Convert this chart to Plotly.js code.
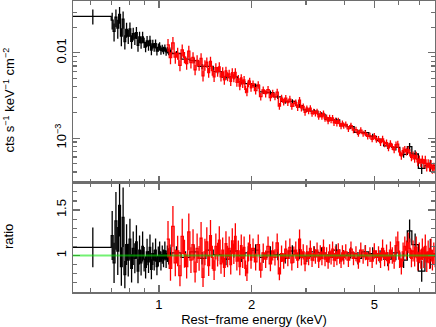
<!DOCTYPE html>
<html>
<head>
<meta charset="utf-8">
<script src="https://cdn.plot.ly/plotly-3.0.1.min.js"></script>
<style>
  html, body { margin: 0; padding: 0; background: #fff; }
  #spec { width: 436px; height: 327px; }
</style>
</head>
<body>
<div id="spec"></div>
<script>
// bin edges in keV (n+1 values for n bins)
var blackEdges = [0.52,0.70,0.71,0.72,0.73,0.74,0.75,0.76,0.77,0.78,0.79,0.80,0.81,0.82,0.83,0.84,0.85,0.86,0.87,0.88,0.89,0.90,
  0.91,0.92,0.93,0.94,0.95,0.96,0.97,0.98,0.99,1.00,1.01,1.02,1.03,1.04,1.05,1.06,1.07,1.08,1.09,1.10,
  1.18,1.26,1.34,1.42,1.50,1.60,1.70,1.80,1.90,2.00,2.12,2.24,2.36,2.50,2.64,2.78,2.94,3.10,3.28,3.46,
  3.66,3.86,4.08,4.30,4.55,4.80,5.08,5.36,5.70,6.05,6.40,6.62,6.95,7.30,7.90];
// count rate, units of 1e-5 cts s^-1 keV^-1 cm^-2
var blackRate = [2680,
  2414,1782,2616,1950,2821,1569,2482,1354,1883,1567,1908,1366,1683,1484,1727,1225,1537,1311,1541,1322,
  1178,1384,1218,1404,1078,1272,1167,1282,1047,1160,1200,1069,1131,1071,1142,1029,1078,1032,1058,1013,
  982,843,812,692,693,603,521,522,457,435,411,349,341,305,269,269,241,215,207,190,
  166,164,143,136,117,116,105,93.3,81.2,78.0,64.6,79.6,65.1,44.1,48.0];
var blackRatio = [1.09,
  1.22,0.92,1.38,1.05,1.55,0.88,1.42,0.79,1.12,0.95,1.18,0.86,1.08,0.97,1.15,0.83,1.06,0.92,1.10,0.96,
  0.87,1.04,0.93,1.09,0.85,1.02,0.95,1.06,0.88,0.99,1.04,0.94,1.01,0.97,1.05,0.96,1.02,0.99,1.03,1.00,
  1.03,0.98,1.04,0.97,1.06,1.01,0.96,1.05,1.00,1.03,1.06,0.98,1.04,1.01,0.97,1.05,1.02,0.99,1.04,1.03,
  0.98,1.06,1.00,1.03,0.97,1.04,1.02,0.99,0.96,1.03,0.95,1.27,1.12,0.83,1.02];
// fractional 1-sigma errors
var blackErr = [0.20,
  .22,.24,.23,.25,.22,.24,.23,.19,.20,.19,.19,.18,.17,.17,.16,.16,.15,.15,.15,.14,
  .14,.14,.13,.13,.13,.12,.12,.12,.11,.11,.11,.11,.10,.10,.10,.10,.09,.09,.09,.09,
  .07,.07,.07,.07,.07,.07,.07,.07,.07,.07,.06,.06,.06,.06,.06,.06,.06,.06,.06,.06,
  .06,.06,.06,.06,.07,.07,.07,.07,.08,.08,.09,.10,.11,.14,.16];

var redEdges = [1.06,1.08,1.10,1.12,1.14,1.16,1.18,1.20,1.22,1.24,1.26,1.28,1.30,1.32,1.34,1.36,1.38,1.40,1.42,1.44,
  1.46,1.48,1.50,1.52,1.54,1.56,1.58,1.60,1.62,1.64,1.66,1.68,1.70,1.72,1.74,1.76,1.78,1.80,1.82,1.84,
  1.86,1.88,1.90,1.92,1.94,1.96,1.98,2.00,
  2.04,2.08,2.12,2.16,2.20,2.24,2.28,2.32,2.36,2.40,2.44,2.48,2.52,2.56,2.60,2.64,2.68,2.72,2.76,2.80,
  2.84,2.88,2.92,2.96,3.00,3.04,3.08,3.12,3.16,3.20,3.24,3.28,3.32,3.36,3.40,3.44,3.48,3.52,3.56,3.60,
  3.64,3.68,3.72,3.76,3.80,3.84,3.88,3.92,3.96,4.00,
  4.08,4.16,4.24,4.32,4.40,4.48,4.56,4.64,4.72,4.80,4.88,4.96,5.04,5.12,5.20,5.28,5.36,5.44,5.52,5.60,
  5.68,5.76,5.84,5.92,6.00,6.08,6.16,6.24,6.32,6.40,6.48,6.56,6.64,6.72,6.80,6.88,6.96,7.04,7.12,7.20,
  7.28,7.36,7.44,7.52,7.60,7.68,7.76,7.84,7.92];
var redRate = [1238,877,1311,889,987,714,1081,888,747,1045,769,885,633,814,715,858,536,718,776,588,
  791,621,522,670,603,686,523,598,481,614,529,566,464,587,507,590,451,496,408,507,
  436,482,374,347,439,465,389,
  431,361,422,307,367,332,371,298,335,305,347,237,295,265,294,261,287,236,254,261,
  229,278,226,235,201,224,207,225,194,204,195,205,178,192,178,195,169,175,158,174,
  162,173,151,160,149,160,148,138,149,140,
  145,128,140,124,126,113,124,113,114,105,107,97,106,96,98,88.7,98.1,85.7,88.6,77.1,
  86.5,79.5,72.9,83.9,84.8,69.0,61.8,71.2,73.6,69.3,72.8,67.5,59.3,62.8,57.9,62.3,52.6,56.4,51.6,56.3,
  50.5,55.6,46.0,50.4,46.2,49.5,43.5,45.8,43.7];
var redRatio = [1.18,0.86,1.32,0.92,1.05,0.78,1.21,1.02,0.88,1.26,0.95,1.12,0.82,1.08,0.97,1.19,0.76,1.04,1.15,0.89,
  1.22,0.98,0.84,1.10,1.01,1.17,0.91,1.06,0.87,1.13,0.99,1.08,0.90,1.16,1.02,1.21,0.94,1.05,0.88,1.11,
  0.97,1.09,0.86,0.81,1.04,1.12,0.95,
  1.08,0.93,1.12,0.84,1.03,0.96,1.10,0.91,1.05,0.98,1.14,0.80,1.02,0.94,1.07,0.97,1.09,0.92,1.01,1.06,
  0.95,1.18,0.98,1.04,0.91,1.03,0.97,1.08,0.95,1.02,0.99,1.06,0.94,1.03,0.97,1.09,0.96,1.01,0.93,1.04,
  0.98,1.07,0.95,1.02,0.97,1.05,0.99,0.94,1.03,0.98,
  1.04,0.95,1.07,0.97,1.02,0.93,1.06,0.99,1.03,0.96,1.01,0.94,1.05,0.98,1.02,0.95,1.08,0.97,1.03,0.92,
  1.06,1.00,0.94,1.11,1.15,0.96,0.88,1.04,1.10,1.06,1.14,1.08,0.97,1.05,0.99,1.09,0.94,1.03,0.96,1.07,
  0.98,1.10,0.93,1.04,0.97,1.06,0.95,1.02,0.99];
var redErr = [.17,.16,.17,.16,.16,.15,.16,.15,.15,.16,.15,.15,.14,.15,.14,.15,.14,.14,.14,.13,
  .14,.13,.13,.13,.13,.13,.12,.13,.12,.12,.12,.12,.12,.12,.11,.12,.11,.11,.11,.11,
  .11,.11,.10,.11,.10,.10,.10,
  .10,.10,.10,.10,.10,.10,.10,.09,.10,.09,.09,.09,.09,.09,.09,.09,.09,.09,.09,.09,
  .09,.09,.09,.08,.09,.08,.08,.08,.08,.08,.08,.08,.08,.08,.08,.08,.08,.08,.08,.08,
  .08,.08,.08,.08,.08,.08,.08,.08,.08,.08,
  .08,.08,.08,.08,.08,.08,.08,.08,.08,.08,.08,.08,.08,.08,.08,.09,.09,.09,.09,.09,
  .09,.09,.09,.09,.10,.10,.10,.10,.10,.10,.10,.10,.10,.11,.11,.11,.11,.11,.11,.11,
  .12,.12,.12,.12,.12,.12,.12,.12,.12];

var rateUnit = 1e-5;
var unityRatio = 1;

var font = 'Liberation Sans, Arial, sans-serif';
var frameCol = '#6e6e6e';

// data drawn as a connected histogram over the bin edges
function steps(edges, vals, color, xa, ya) {
  return {
    x: edges, y: vals.concat([vals[vals.length - 1]]), xaxis: xa, yaxis: ya,
    type: 'scatter', mode: 'lines', line: {shape: 'hv', color: color, width: 1.3},
    hoverinfo: 'skip', showlegend: false
  };
}

// vertical error bars at bin centres
function errbars(edges, vals, errs, color, xa, ya) {
  var x = [], ey = [];
  for (var i = 0; i < vals.length; i++) {
    x.push((edges[i] + edges[i + 1]) / 2);
    ey.push(vals[i] * errs[i]);
  }
  return {
    x: x, y: vals, xaxis: xa, yaxis: ya,
    type: 'scatter', mode: 'markers',
    marker: {size: 0, opacity: 0},
    error_y: {type: 'data', array: ey, color: color, thickness: 1.3, width: 0},
    hoverinfo: 'skip', showlegend: false
  };
}

var blackFlux = blackRate.map(function(v) { return v * rateUnit; });
var redFlux = redRate.map(function(v) { return v * rateUnit; });

var data = [
  steps(blackEdges, blackFlux, '#000000', 'x2', 'y2'),
  errbars(blackEdges, blackFlux, blackErr, '#000000', 'x2', 'y2'),
  steps(redEdges, redFlux, '#ff0000', 'x2', 'y2'),
  errbars(redEdges, redFlux, redErr, '#ff0000', 'x2', 'y2'),
  steps(blackEdges, blackRatio, '#000000', 'x', 'y'),
  errbars(blackEdges, blackRatio, blackErr, '#000000', 'x', 'y'),
  steps(redEdges, redRatio, '#ff0000', 'x', 'y'),
  errbars(redEdges, redRatio, redErr, '#ff0000', 'x', 'y')
];

var split = 0.3756;
var axisBase = {
  showline: true, linecolor: frameCol, linewidth: 1.5, mirror: 'allticks',
  ticks: 'inside', ticklen: 7, tickwidth: 1.2, tickcolor: frameCol,
  showgrid: false, zeroline: false,
  tickfont: {family: font, size: 13, color: '#000'}
};
function ax(extra) { return Object.assign({}, axisBase, extra); }

var layout = {
  width: 436, height: 327,
  margin: {l: 73, r: 1, t: 1, b: 35},
  paper_bgcolor: '#fff', plot_bgcolor: '#fff',
  font: {family: font, size: 13, color: '#000'},
  xaxis: ax({
    type: 'log', range: [-0.279, 0.896], anchor: 'y',
    tickvals: [1, 2, 5], ticktext: ['1', '2', '5'],
    minor: {tickvals: [0.6, 0.7, 0.8, 0.9, 3, 4, 6, 7], ticks: 'inside', ticklen: 4, tickwidth: 1.2, tickcolor: frameCol},
    title: {text: 'Rest\u2212frame energy (keV)', font: {family: font, size: 13}, standoff: 3}
  }),
  xaxis2: ax({
    type: 'log', range: [-0.279, 0.896], anchor: 'y2', matches: 'x',
    tickvals: [1, 2, 5], showticklabels: false,
    minor: {tickvals: [0.6, 0.7, 0.8, 0.9, 3, 4, 6, 7], ticks: 'inside', ticklen: 4, tickwidth: 1.2, tickcolor: frameCol}
  }),
  yaxis: ax({
    domain: [0, split], range: [0.6, 1.8], anchor: 'x',
    tickvals: [1, 1.5], ticktext: ['1', '1.5'], tickangle: -90,
    minor: {tickvals: [0.7, 0.8, 0.9, 1.1, 1.2, 1.3, 1.4, 1.6, 1.7], ticks: 'inside', ticklen: 4, tickwidth: 1.2, tickcolor: frameCol}
  }),
  yaxis2: ax({
    domain: [split, 1], type: 'log', range: [-3.523, -1.392], anchor: 'x2',
    tickvals: [0.001, 0.01], ticktext: ['10<sup>\u22123</sup>', '0.01'], tickangle: -90,
    minor: {tickvals: [3e-4, 4e-4, 5e-4, 6e-4, 7e-4, 8e-4, 9e-4, 2e-3, 3e-3, 4e-3, 5e-3, 6e-3, 7e-3, 8e-3, 9e-3, 0.02, 0.03, 0.04],
            ticks: 'inside', ticklen: 4, tickwidth: 1.2, tickcolor: frameCol}
  }),
  shapes: [{
    type: 'line', layer: 'above', xref: 'x domain', x0: 0, x1: 1, yref: 'y', y0: unityRatio, y1: unityRatio,
    line: {color: 'rgba(0,230,0,0.55)', width: 2}
  }],
  annotations: [
    {text: 'cts s<sup>\u22121</sup> keV<sup>\u22121</sup> cm<sup>\u22122</sup>', xref: 'paper', yref: 'paper',
     x: -0.178, y: 0.66, xanchor: 'center', yanchor: 'middle', textangle: -90, showarrow: false,
     font: {family: font, size: 13, color: '#000'}},
    {text: 'ratio', xref: 'paper', yref: 'paper',
     x: -0.18, y: 0.192, xanchor: 'center', yanchor: 'middle', textangle: -90, showarrow: false,
     font: {family: font, size: 13, color: '#000'}}
  ]
};

Plotly.newPlot('spec', data, layout, {staticPlot: true, displayModeBar: false});
</script>
</body>
</html>
